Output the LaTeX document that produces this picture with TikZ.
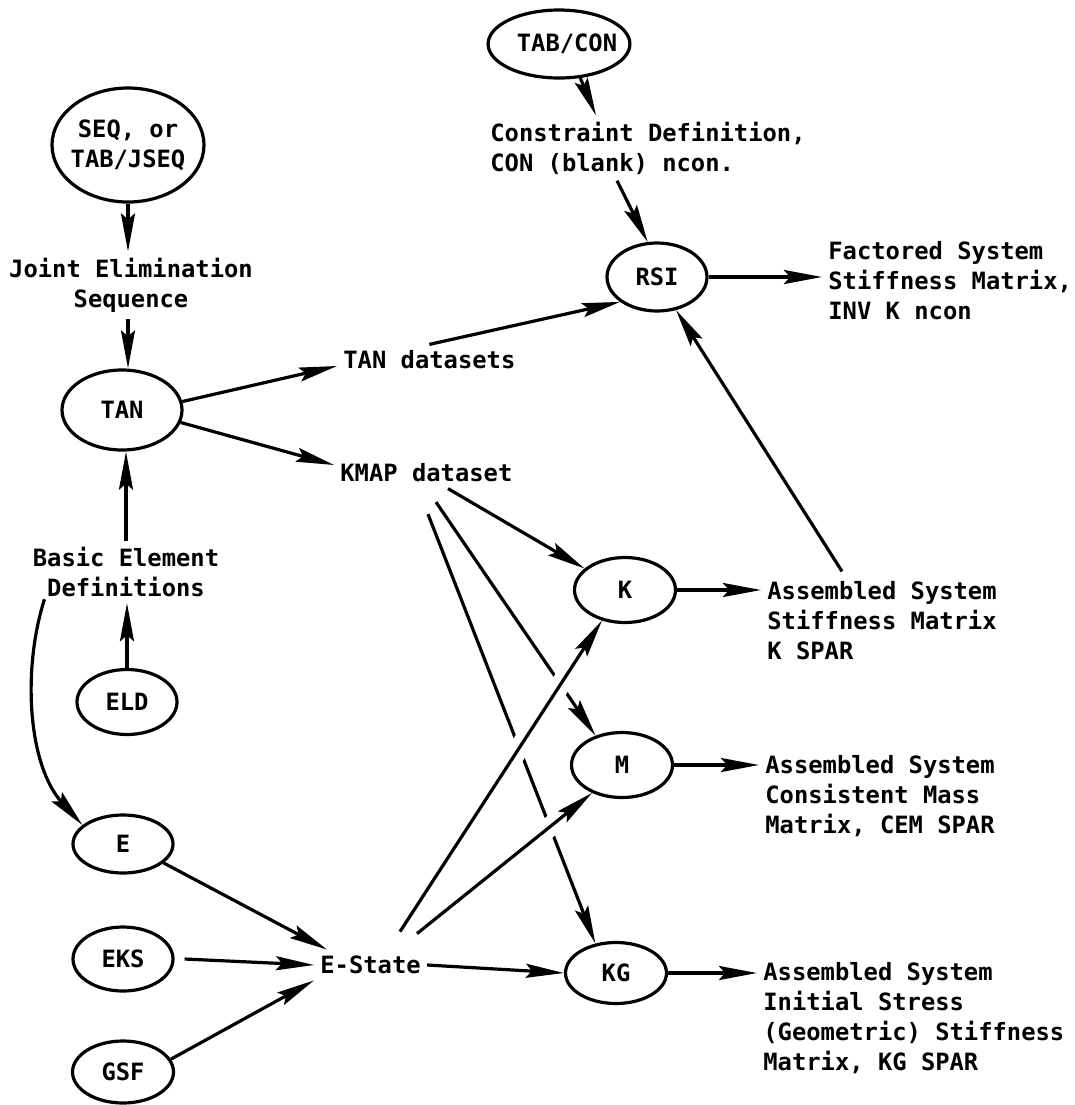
\documentclass[tikz,border=0pt]{standalone}
\usepackage{fontspec}
\setmonofont{DejaVu Sans Mono}
\usetikzlibrary{arrows.meta,shapes.geometric,calc}
\begin{document}
\begin{tikzpicture}[x=0.5pt,y=-0.5pt,
  txt/.style={font=\ttfamily\bfseries\fontsize{11.9}{15}\selectfont},
  proc/.style={ellipse, draw, line width=1.6pt, inner sep=0pt, align=center, txt},
  lbl/.style={inner sep=3pt, txt},
  conn/.style={line width=1.6pt, -{Stealth[length=19pt,width=7pt,inset=3pt]}},
  gapline/.style={draw=white, line width=10pt}]
\useasboundingbox (0,0) rectangle (1075,1105);

% process ellipses
\node[proc, inner xsep=-4pt, minimum width=76pt, minimum height=57pt] (seq) at (128,145) {SEQ, or\\TAB/JSEQ};
\node[proc, minimum width=60pt, minimum height=40pt] (tan) at (122,410) {TAN};
\node[proc, inner xsep=-4pt, minimum width=66pt, minimum height=34pt] (tabcon) at (559,44) {\kern8pt TAB/CON};
\node[proc, minimum width=50pt, minimum height=34pt] (rsi) at (657,277) {RSI};
\node[proc, minimum width=50.5pt, minimum height=32.5pt] (k) at (625,590) {K};
\node[proc, minimum width=50.5pt, minimum height=32.5pt] (m) at (622,765) {M};
\node[proc, minimum width=50.5pt, minimum height=30.5pt] (kg) at (616,973) {KG};
\node[proc, minimum width=50pt, minimum height=32.5pt] (eld) at (127,702) {ELD};
\node[proc, minimum width=50pt, minimum height=29pt] (e) at (123,844) {E};
\node[proc, minimum width=50pt, minimum height=32pt] (eks) at (123,959) {EKS};
\node[proc, minimum width=50.5pt, minimum height=31pt] (gsf) at (123,1072) {GSF};

% text labels
\node[lbl, align=center] (joint) at (131,285) {Joint Elimination\\Sequence};
\node[lbl, align=center] (basic) at (126,572) {Basic Element\\Definitions};
\node[lbl, anchor=west] (tands) at (337,360) {TAN datasets};
\node[lbl, anchor=west] (kmap) at (334,473) {KMAP dataset};
\node[lbl, anchor=west, align=left] (cons) at (484,148) {Constraint Definition,\\CON (blank) ncon.};
\node[lbl, anchor=west, align=left] (fact) at (822,281) {Factored System\\Stiffness Matrix,\\INV K ncon};
\node[lbl, anchor=west, align=left] (asmk) at (761,621) {Assembled System\\Stiffness Matrix\\K SPAR};
\node[lbl, anchor=west, align=left] (asmm) at (759,796) {Assembled System\\Consistent Mass\\Matrix, CEM SPAR};
\node[lbl, anchor=west, align=left] (asmkg) at (757,1018) {Assembled System\\Initial Stress\\(Geometric) Stiffness\\Matrix, KG SPAR};
\node[lbl, anchor=west] (estate) at (314,965) {E-State};

% left column
\draw[conn] (seq.south) -- (seq.south |- joint.north);
\draw[conn] (seq.south |- joint.south) -- (seq.south |- tan.north);
\draw[conn] (basic.north) -- (basic.north |- tan.south);
\draw[conn] (eld.north) -- (eld.north |- basic.south);
\draw[conn] ([xshift=9pt,yshift=2pt]basic.south west) .. controls (22,670) and (28,765) .. (e.155);

% TAN outputs
\draw[conn] (tan.8) -- ([yshift=-3pt]tands.west);
\draw[conn] (tan.-12) -- ([yshift=4pt]kmap.west);

% RSI inputs / output
\draw[conn] (tands.north) -- (rsi.214);
\draw[conn] (tabcon.-58) -- ([xshift=56pt]cons.north west);
\draw[conn] ([xshift=66.5pt]cons.south west) -- (rsi.105);
\draw[conn] (rsi.east) -- (rsi.east -| fact.west);
\draw[conn] ([xshift=40.5pt,yshift=2pt]asmk.north west) -- (rsi.-60);

% KMAP fan
\draw[conn] ([xshift=57pt]kmap.south west) -- (k.152);
\draw[conn] ([xshift=51pt,yshift=-6.75pt]kmap.south west) -- (m.132);
\draw[conn] ([xshift=47pt,yshift=-12.75pt]kmap.south west) -- (kg.125);

% outputs of K, M, KG
\draw[conn] (k.east) -- (k.east -| asmk.west);
\draw[conn] (m.east) -- (m.east -| asmm.west);
\draw[conn] (kg.east) -- (kg.east -| asmkg.west);

% E-State inputs
\draw[conn] (e.-25) -- ([xshift=6.5pt]estate.north west);
\draw[conn] ([xshift=5pt]eks.east) -- (estate.west);
\draw[conn] (gsf.15) -- (estate.south west);

% E-State outputs (crossing the KMAP fan with gaps)
\coordinate (ek) at ([xshift=43pt,yshift=9pt]estate.north west);
\coordinate (em) at ([xshift=51.5pt,yshift=8pt]estate.north west);
\draw[gapline] ($(ek)!0.45!(k.233)$) -- ($(ek)!0.88!(k.233)$);
\draw[gapline] ($(em)!0.6!(m.223)$) -- ($(em)!0.85!(m.223)$);
\draw[conn] (ek) -- (k.233);
\draw[conn] (em) -- (m.223);
\draw[conn] (estate.east) -- (kg.west);
\end{tikzpicture}
\end{document}
